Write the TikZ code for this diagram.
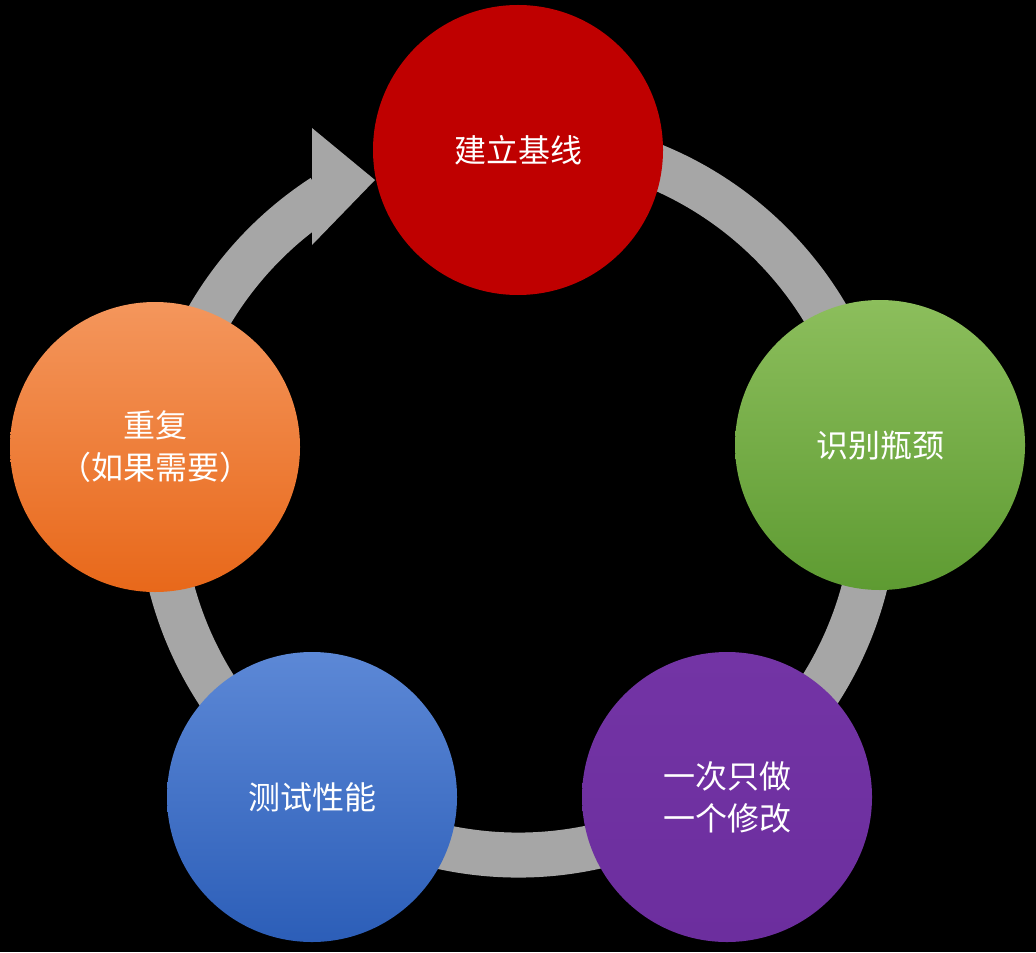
\documentclass[tikz,border=0pt]{standalone}
\usepackage{fontspec}
\setmainfont{Noto Sans CJK SC}
\begin{document}
\begin{tikzpicture}[x=0.5pt,y=-0.5pt,
  ball/.style={circle,minimum size=145pt,inner sep=0pt,text=white,align=center,font=\fontsize{16}{21}\selectfont},
  ring/.style={line width=22.5pt,draw=ringgray}]
\definecolor{ringgray}{HTML}{A6A6A6}
\fill[black] (0,0) rectangle (1036,952);
\useasboundingbox (0,0) rectangle (1036,952);
\coordinate (C) at (518,497);
\draw[ring] (C) ++(-80:358) arc[start angle=-80,end angle=237,radius=358];
\coordinate (ab1) at (312,128);
\coordinate (ab2) at (312,245);
\coordinate (at) at (375,180);
\fill[ringgray] (ab1) -- (at) -- (ab2) -- cycle;
\node[ball,top color=red!75!black,bottom color=red!75!black] (a) at (518,150) {建立基线};
\node[ball,top color={rgb,255:red,140;green,190;blue,92},bottom color={rgb,255:red,94;green,155;blue,50}] (b) at (880,445) {识别瓶颈};
\node[ball,top color={rgb,255:red,115;green,52;blue,165},bottom color={rgb,255:red,108;green,46;blue,158}] (c) at (727,797) {一次只做\\一个修改};
\node[ball,top color={rgb,255:red,92;green,136;blue,214},bottom color={rgb,255:red,44;green,94;blue,184}] (d) at (312,797) {测试性能};
\node[ball,top color={rgb,255:red,244;green,150;blue,92},bottom color={rgb,255:red,232;green,104;blue,26}] (e) at (155,447) {重复\\（如果需要）};
\end{tikzpicture}
\end{document}
